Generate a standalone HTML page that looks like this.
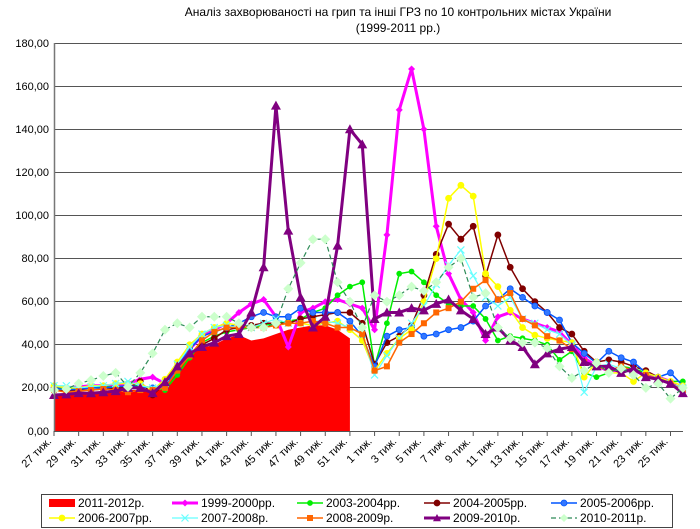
<!DOCTYPE html>
<html><head><meta charset="utf-8">
<style>
html,body{margin:0;padding:0;background:#fff;}
svg{display:block;font-family:"Liberation Sans","DejaVu Sans",sans-serif;}
</style></head>
<body>
<svg id="c" width="700" height="529" viewBox="0 0 700 529" xmlns="http://www.w3.org/2000/svg">
<rect width="700" height="529" fill="#fff"/>
<text x="398" y="16" font-size="12" text-anchor="middle" fill="#000">Аналіз захворюваності на грип та інші ГРЗ по 10 контрольних містах України</text>
<text x="398" y="32" font-size="12" text-anchor="middle" fill="#000">(1999-2011 рр.)</text>
<g stroke="#555" stroke-width="1">
<line x1="54" y1="43.5" x2="682" y2="43.5"/>
<line x1="54" y1="86.5" x2="682" y2="86.5"/>
<line x1="54" y1="129.5" x2="682" y2="129.5"/>
<line x1="54" y1="172.5" x2="682" y2="172.5"/>
<line x1="54" y1="215.5" x2="682" y2="215.5"/>
<line x1="54" y1="258.5" x2="682" y2="258.5"/>
<line x1="54" y1="301.5" x2="682" y2="301.5"/>
<line x1="54" y1="344.5" x2="682" y2="344.5"/>
<line x1="54" y1="387.5" x2="682" y2="387.5"/>
</g>
<g font-size="11" text-anchor="end" fill="#000">
<text x="49" y="47">180,00</text>
<text x="49" y="90">160,00</text>
<text x="49" y="133">140,00</text>
<text x="49" y="176">120,00</text>
<text x="49" y="219">100,00</text>
<text x="49" y="262">80,00</text>
<text x="49" y="305">60,00</text>
<text x="49" y="348">40,00</text>
<text x="49" y="391">20,00</text>
<text x="49" y="435">0,00</text>
</g>
<g id="area"></g>
<g id="series"></g>
<line x1="54.5" y1="43" x2="54.5" y2="431" stroke="#777" stroke-width="1.5"/>
<line x1="54" y1="431.5" x2="683" y2="431.5" stroke="#555" stroke-width="1"/>
<g id="ticks" stroke="#555" stroke-width="1"></g>
<g font-size="11" text-anchor="end" fill="#000">
<text transform="translate(52,442) rotate(-45)">27 тиж.</text>
<text transform="translate(76.7,442) rotate(-45)">29 тиж.</text>
<text transform="translate(101.3,442) rotate(-45)">31 тиж.</text>
<text transform="translate(126,442) rotate(-45)">33 тиж.</text>
<text transform="translate(150.6,442) rotate(-45)">35 тиж.</text>
<text transform="translate(175.3,442) rotate(-45)">37 тиж.</text>
<text transform="translate(200,442) rotate(-45)">39 тиж.</text>
<text transform="translate(224.6,442) rotate(-45)">41 тиж.</text>
<text transform="translate(249.3,442) rotate(-45)">43 тиж.</text>
<text transform="translate(273.9,442) rotate(-45)">45 тиж.</text>
<text transform="translate(298.6,442) rotate(-45)">47 тиж.</text>
<text transform="translate(323.3,442) rotate(-45)">49 тиж.</text>
<text transform="translate(347.9,442) rotate(-45)">51 тиж.</text>
<text transform="translate(372.6,442) rotate(-45)">1 тиж.</text>
<text transform="translate(397.2,442) rotate(-45)">3 тиж.</text>
<text transform="translate(421.9,442) rotate(-45)">5 тиж.</text>
<text transform="translate(446.6,442) rotate(-45)">7 тиж.</text>
<text transform="translate(471.2,442) rotate(-45)">9 тиж.</text>
<text transform="translate(495.9,442) rotate(-45)">11 тиж.</text>
<text transform="translate(520.5,442) rotate(-45)">13 тиж.</text>
<text transform="translate(545.2,442) rotate(-45)">15 тиж.</text>
<text transform="translate(569.9,442) rotate(-45)">17 тиж.</text>
<text transform="translate(594.5,442) rotate(-45)">19 тиж.</text>
<text transform="translate(619.2,442) rotate(-45)">21 тиж.</text>
<text transform="translate(643.8,442) rotate(-45)">23 тиж.</text>
<text transform="translate(668.5,442) rotate(-45)">25 тиж.</text>
</g>
<rect x="41.5" y="494.5" width="631" height="33" fill="#fff" stroke="#444" stroke-width="1"/>
<g id="leg"></g>
<g font-size="12" fill="#000">
<text x="78" y="507">2011-2012р.</text>
<text x="201" y="507">1999-2000рр.</text>
<text x="326" y="507">2003-2004рр.</text>
<text x="453" y="507">2004-2005рр.</text>
<text x="580" y="507">2005-2006рр.</text>
<text x="78" y="522">2006-2007рр.</text>
<text x="201" y="522">2007-2008р.</text>
<text x="326" y="522">2008-2009р.</text>
<text x="453" y="522">2009-2010р.</text>
<text x="580" y="522">2010-2011р.</text>
</g>
</svg>
<script>
var NS="http://www.w3.org/2000/svg";
function X(i){return 54+12.33*i;}
function Y(v){return 431-2.155*v;}
function el(t,a,p){var e=document.createElementNS(NS,t);for(var k in a)e.setAttribute(k,a[k]);p.appendChild(e);return e;}
var tk=document.getElementById('ticks');
for(var i=0;i<=51;i+=2){el('line',{x1:X(i),y1:431,x2:X(i),y2:436},tk);}
var red=[17,17.5,17.5,18,18,18.5,19,19,19,20,30,36,38.5,40,43,44.5,42,43,45,47,48,49,49,47,43];
var d="M"+X(0)+","+Y(0);
red.forEach(function(v,i){d+=" L"+X(i)+","+Y(v);});
d+=" L"+X(24)+","+Y(0)+" Z";
el('path',{d:d,fill:"#ff0000"},document.getElementById('area'));
var S=[
{c:"#ff00ff",w:3,m:"dia",s:3.5,f:"#ff00ff",d:[20,20,20.5,21,21,21,22,24,25,22,28,38,44,47,50,55,59,61,53,39,55,57,60,61,59,57,47,91,149,168,140,95,73,61,55,42,53,55,52,50,48,46,40,34,30,28,28,28,26,25,23,18]},
{c:"#00ee00",w:1.5,m:"cir",s:2.5,f:"#00ee00",d:[20,19.5,20,20,20.5,20.5,21,21,20,19,26,34,41,44,46,47,48,49,50,51,52,55,57,63,67,69,30,50,73,74,69,63,59,58,58,52,42,44,43,42,40,33,37,27,25,27,30,29,27,25,23,23]},
{c:"#800000",w:1.5,m:"cir",s:3,f:"#800000",d:[19,18.5,19,19,19.5,20,20,23,16.7,22,29,36,40,43,47,48,49,50,50,50,52,53,54,55,55,50,31,41,44,49,63,82,96,89,95,72,91,76,66,60,55,48,45,37,32,33,32,30,28,25,22,20]},
{c:"#0055ff",w:1.5,m:"cir",s:3,f:"#3377ff",d:[20,19,19.5,20,20,20.5,21,20.5,20,20,30,38,44,46,48,50,53,55,53,53,57,55,55,55,51,44,30,44,47,48,44,45,47,48,51,58,61,66,62,58,55,51.5,41,36,31.5,37,34,32,27,25,27,21]},
{c:"#ffff00",w:1.5,m:"cir",s:3,f:"#ffff00",d:[21,20,20,21,21,22,22,22,19,24,32,40,45,48,50,49,48,48,49,50,50,49,50,51,47,42,28,36,43,47,60,80,108,114,109,73,67,56,48,44.5,43,42,41,25,32,27,27,23,27,25,23,21]},
{c:"#66ffff",w:1.2,m:"x",s:3.5,f:"none",d:[21,21,20,20.5,21,22,23,21,20,22,31,39,45,48,49,48,48,50,52,50,50,51,51,50,48,45,26,35,43,50,58,68,77,84,72,62,58,62,52,50,47,45,40,18,30,31,29,28,26,24,22,20]},
{c:"#ff6600",w:1.5,m:"sq",s:3,f:"#ff6600",d:[19,18,18.5,19,19.5,19,18,19,19,20,28,35,42,46,48,48,48,48,49,50,50,51,50,48,48,45,28,30,41,45,50,55,57,60,66,70,61,64,52,49,44,42,38,32,30,28,30,28,26,24,22,19]},
{c:"#800080",w:3,m:"tri",s:5,f:"#800080",d:[16.7,17,17.6,17.5,18,18.5,20,20,17.6,22.7,30,36,39,41,44,45,55,76,151,93,62,48,53,86,140,133,52,55,55,57,56,59,61,56,52,45,48,42,39,31,36,38,39,32,30,30,27,29,25,24,22,17.6]},
{c:"#2e8b57",w:1.2,m:"dia",s:5,f:"#ccffcc",dash:"5,3",d:[19,19.5,22,23.6,25.5,27,20.5,27,36,47,50,48,53,53,53,50,48,48,50,66,78,89,89,69,60,48,63,60,63,67,65,69,76,80,62,64,48,43,41,41,38.5,30,24.6,28,31.5,27,29,26,20,22,15,20]}
];
var g=document.getElementById('series');
function marker(m,x,y,s,f,c,p){
 if(m=="cir")el('circle',{cx:x,cy:y,r:s,fill:f,stroke:c,"stroke-width":0.8},p);
 else if(m=="sq")el('rect',{x:x-s,y:y-s,width:2*s,height:2*s,fill:f},p);
 else if(m=="dia")el('path',{d:"M"+x+","+(y-s)+" L"+(x+s)+","+y+" L"+x+","+(y+s)+" L"+(x-s)+","+y+"Z",fill:f},p);
 else if(m=="tri")el('path',{d:"M"+x+","+(y-s)+" L"+(x+s)+","+(y+s*0.8)+" L"+(x-s)+","+(y+s*0.8)+"Z",fill:f},p);
 else if(m=="x"){el('path',{d:"M"+(x-s)+","+(y-s)+" L"+(x+s)+","+(y+s)+" M"+(x+s)+","+(y-s)+" L"+(x-s)+","+(y+s),stroke:c,"stroke-width":1.2,fill:"none"},p);}
}
S.forEach(function(s){
 var pts=s.d.map(function(v,i){return X(i)+","+Y(v);}).join(" ");
 var a={points:pts,fill:"none",stroke:s.c,"stroke-width":s.w,"stroke-linejoin":"round"};
 if(s.dash)a["stroke-dasharray"]=s.dash;
 el('polyline',a,g);
 s.d.forEach(function(v,i){marker(s.m,X(i),Y(v),s.s,s.f,s.c,g);});
});
var L=document.getElementById('leg');
el('rect',{x:49,y:499,width:26,height:8,fill:"#ff0000"},L);
var pos=[[172,503],[297,503],[424,503],[551,503],[49,518],[172,518],[297,518],[424,518],[551,518]];
S.forEach(function(s,k){
 var p=pos[k];var a={x1:p[0],y1:p[1],x2:p[0]+26,y2:p[1],stroke:s.c,"stroke-width":s.w};
 if(s.dash)a["stroke-dasharray"]=s.dash;
 el('line',a,L);
 marker(s.m,p[0]+13,p[1],Math.min(s.s,4),s.f,s.c,L);
});
</script>
</body></html>
